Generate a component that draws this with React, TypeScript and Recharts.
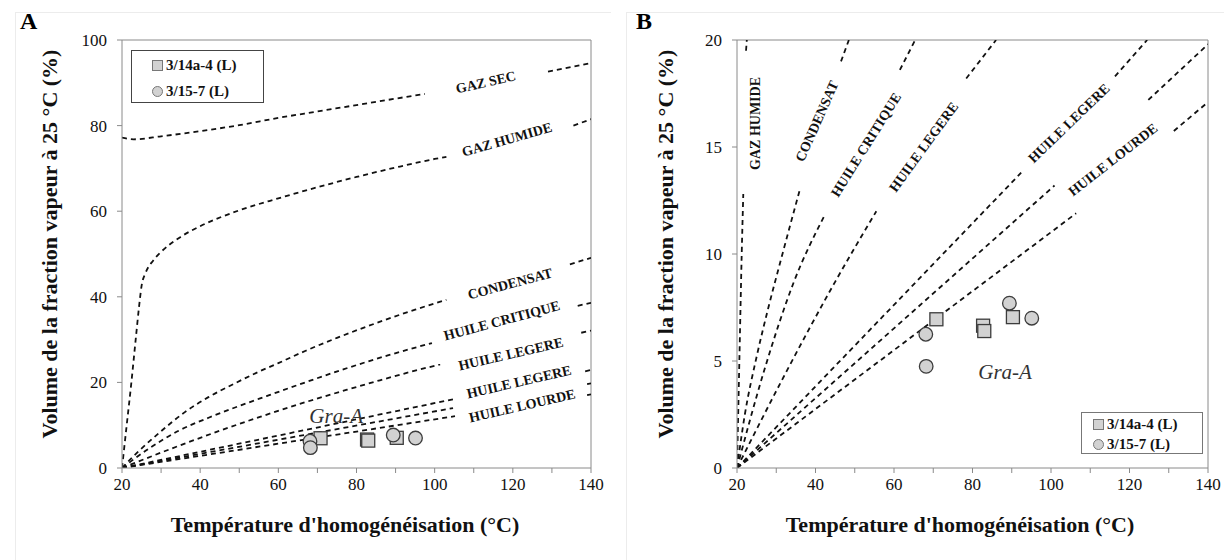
import { ComposedChart, Line, Scatter, XAxis, YAxis, ReferenceLine } from "recharts";

type Pt = { x: number; y: number | null };
type Note = { text: string; x: number; y: number; angle: number };

const xTicks = [20, 30, 40, 50, 60, 70, 80, 90, 100, 110, 120, 130, 140];
const yTicksA = [0, 20, 40, 60, 80, 100];
const yTicksB = [0, 5, 10, 15, 20];

const seriesNames = ["3/14a-4 (L)", "3/15-7 (L)"];
const xTitle = "Température d'homogénéisation (°C)";
const yTitle = "Volume de la fraction vapeur à 25 °C (%)";

// measured inclusions (Th, vapour %)
const s314 = [
  { x: 70.8, y: 6.95 },
  { x: 82.7, y: 6.65 },
  { x: 83.0, y: 6.4 },
  { x: 90.3, y: 7.05 },
];
const s315 = [
  { x: 68.1, y: 6.25 },
  { x: 68.2, y: 4.75 },
  { x: 89.4, y: 7.7 },
  { x: 95.1, y: 7.0 },
];

// panel A isochores; y: null leaves the gap where the label sits
const aGazSec: Pt[] = [
  { x: 20, y: 77.2 }, { x: 23, y: 76.8 }, { x: 30, y: 77.5 }, { x: 40, y: 78.7 },
  { x: 50, y: 80.1 }, { x: 60, y: 81.8 }, { x: 70, y: 83.3 }, { x: 80, y: 84.8 },
  { x: 90, y: 86.3 }, { x: 97.5, y: 87.4 }, { x: 110, y: null },
  { x: 129, y: 92.6 }, { x: 140, y: 94.6 },
];
const aGazHumide: Pt[] = [
  { x: 20, y: 0 }, { x: 21.2, y: 10 }, { x: 22.4, y: 20 }, { x: 23.5, y: 30 },
  { x: 24.4, y: 38 }, { x: 25, y: 42.5 }, { x: 26, y: 45.5 }, { x: 28, y: 48.5 },
  { x: 30, y: 50.5 }, { x: 35, y: 54 }, { x: 40, y: 56.5 }, { x: 50, y: 60.2 },
  { x: 60, y: 63 }, { x: 70, y: 65.6 }, { x: 80, y: 68 }, { x: 90, y: 70.2 },
  { x: 100, y: 72.2 }, { x: 103, y: 72.7 }, { x: 120, y: null },
  { x: 135.5, y: 80 }, { x: 140, y: 81.5 },
];
const aCondensat: Pt[] = [
  { x: 20, y: 0 }, { x: 24, y: 3.7 }, { x: 29.5, y: 8.2 }, { x: 36, y: 13 },
  { x: 42, y: 16.5 }, { x: 48.5, y: 19.6 }, { x: 55, y: 22.5 }, { x: 60, y: 24.5 },
  { x: 67, y: 27.4 }, { x: 75, y: 30.4 }, { x: 86.7, y: 34.4 }, { x: 95, y: 37 },
  { x: 103, y: 39.3 }, { x: 120, y: null }, { x: 134.6, y: 47.6 }, { x: 140, y: 49.1 },
];
const aCritique: Pt[] = [
  { x: 20, y: 0 }, { x: 27, y: 4.6 }, { x: 34.5, y: 8.7 }, { x: 42.3, y: 11.8 },
  { x: 50, y: 14.5 }, { x: 57, y: 16.8 }, { x: 65, y: 19.4 }, { x: 76.8, y: 23.1 },
  { x: 88, y: 26.3 }, { x: 99.3, y: 29.2 }, { x: 120, y: null },
  { x: 136.6, y: 37.9 }, { x: 140, y: 38.6 },
];
const aLegere1: Pt[] = [
  { x: 20, y: 0 }, { x: 32, y: 4.3 }, { x: 45, y: 8.7 }, { x: 55.5, y: 12 },
  { x: 67, y: 15.4 }, { x: 78.4, y: 18.5 }, { x: 86, y: 20.5 }, { x: 94, y: 22.5 },
  { x: 101.4, y: 24.2 }, { x: 120, y: null }, { x: 137.5, y: 31.6 }, { x: 140, y: 32.1 },
];
const aLegere2: Pt[] = [
  { x: 20, y: 0 }, { x: 105.5, y: 16.2 }, { x: 120, y: null },
  { x: 138.5, y: 22.6 }, { x: 140, y: 22.9 },
];
const aMid: Pt[] = [
  { x: 20, y: 0 }, { x: 104.7, y: 14 }, { x: 120, y: null },
  { x: 139, y: 19.6 }, { x: 140, y: 19.8 },
];
const aLourde: Pt[] = [
  { x: 20, y: 0 }, { x: 105.2, y: 12.1 }, { x: 120, y: null },
  { x: 139, y: 17 }, { x: 140, y: 17.2 },
];

// panel B, same isochores zoomed to 0-20 %
const bGazHumide: Pt[] = [
  { x: 20, y: 0 }, { x: 20.6, y: 5 }, { x: 21.2, y: 10 }, { x: 21.6, y: 12.8 },
  { x: 22, y: null }, { x: 22.3, y: 19.5 }, { x: 22.5, y: 20 },
];
const bCondensat: Pt[] = [
  { x: 20, y: 0 }, { x: 22, y: 2.5 }, { x: 25, y: 5.2 }, { x: 28, y: 7.5 },
  { x: 31, y: 9.6 }, { x: 36, y: 13 }, { x: 40, y: null },
  { x: 46.5, y: 19 }, { x: 48.5, y: 20 },
];
const bCritique: Pt[] = [
  { x: 20, y: 0 }, { x: 27, y: 4.6 }, { x: 34.5, y: 8.7 }, { x: 42.3, y: 11.8 },
  { x: 50, y: null }, { x: 61.5, y: 18.6 }, { x: 65.4, y: 20 },
];
const bLegere1: Pt[] = [
  { x: 20, y: 0 }, { x: 32, y: 4.3 }, { x: 45, y: 8.7 }, { x: 55.5, y: 12 },
  { x: 65, y: null }, { x: 78.4, y: 18.2 }, { x: 86, y: 20 },
];
const bLegere2: Pt[] = [
  { x: 20, y: 0 }, { x: 92.4, y: 13.8 }, { x: 100, y: null },
  { x: 116.3, y: 18.3 }, { x: 124.5, y: 20 },
];
const bMid: Pt[] = [
  { x: 20, y: 0 }, { x: 100.9, y: 13.2 }, { x: 110, y: null },
  { x: 124.8, y: 17.2 }, { x: 140, y: 19.8 },
];
const bLourde: Pt[] = [
  { x: 20, y: 0 }, { x: 106.4, y: 11.9 }, { x: 120, y: null },
  { x: 131.3, y: 15.75 }, { x: 140, y: 17.1 },
];

const notesA: Note[] = [
  { text: "GAZ SEC", x: 113.1, y: 90.1, angle: -13 },
  { text: "GAZ HUMIDE", x: 118.5, y: 76.7, angle: -16 },
  { text: "CONDENSAT", x: 119.3, y: 43, angle: -15 },
  { text: "HUILE CRITIQUE", x: 117.2, y: 34.4, angle: -15 },
  { text: "HUILE LEGERE", x: 119.5, y: 26.6, angle: -13 },
  { text: "HUILE LEGERE", x: 121.6, y: 20.1, angle: -13 },
  { text: "HUILE LOURDE", x: 122.4, y: 14.5, angle: -13 },
];
const notesB: Note[] = [
  { text: "GAZ HUMIDE", x: 24.6, y: 16.1, angle: -90 },
  { text: "CONDENSAT", x: 40.4, y: 16.2, angle: -66 },
  { text: "HUILE CRITIQUE", x: 52.9, y: 15.1, angle: -58 },
  { text: "HUILE LEGERE", x: 67.6, y: 15.0, angle: -54 },
  { text: "HUILE LEGERE", x: 104.6, y: 16.1, angle: -44 },
  { text: "HUILE LOURDE", x: 115.8, y: 14.4, angle: -38 },
];
const groupA = [{ text: "Gra-A", x: 74.8, y: 12.1, angle: 0 }];
const groupB = [{ text: "Gra-A", x: 88.3, y: 4.5, angle: 0 }];

const SERIF = "'Liberation Serif', 'Times New Roman', serif";
const AXIS = "#8a8a8a";
const DASH = "5 4";

const squareShape = (p: any) => (
  <rect x={p.cx - 6.5} y={p.cy - 6.5} width={13} height={13} fill="#d2d2d2" stroke="#3c3c3c" strokeWidth={1.3} />
);
const circleShape = (p: any) => (
  <circle cx={p.cx} cy={p.cy} r={6.8} fill="#d2d2d2" stroke="#3c3c3c" strokeWidth={1.3} />
);
const noteShape = (p: any) => (
  <text
    x={p.cx}
    y={p.cy}
    textAnchor="middle"
    dominantBaseline="central"
    transform={`rotate(${p.payload.angle} ${p.cx} ${p.cy})`}
    fontFamily={SERIF}
    fontWeight="bold"
    fontSize={14}
    fill="#111"
  >
    {p.payload.text}
  </text>
);
const groupShape = (p: any) => (
  <text x={p.cx} y={p.cy} textAnchor="middle" dominantBaseline="central" fontFamily={SERIF} fontStyle="italic" fontSize={21} fill="#333">
    {p.payload.text}
  </text>
);

interface PanelProps {
  width: number;
  left: number;
  right: number;
  yMax: number;
  yTicks: number[];
  curves: Pt[][];
  notes: Note[];
  group: Note[];
}

function Panel({ width, left, right, yMax, yTicks, curves, notes, group }: PanelProps) {
  const tick = { fontFamily: SERIF, fontSize: 17, fill: "#111" };
  return (
    <ComposedChart width={width} height={560} margin={{ top: 40, right, bottom: 62, left }}>
      <XAxis
        type="number"
        dataKey="x"
        domain={[20, 140]}
        ticks={xTicks}
        tickFormatter={(v: number) => (v % 20 === 0 ? String(v) : "")}
        interval={0}
        height={30}
        stroke={AXIS}
        tickSize={5}
        tickMargin={5}
        tick={tick}
        allowDataOverflow
      />
      <YAxis
        type="number"
        dataKey="y"
        domain={[0, yMax]}
        ticks={yTicks}
        interval={0}
        width={60}
        stroke={AXIS}
        tickSize={5}
        tickMargin={10}
        tick={tick}
        allowDataOverflow
      />
      <ReferenceLine y={yMax} stroke={AXIS} />
      <ReferenceLine x={140} stroke={AXIS} />
      {curves.map((c, i) => (
        <Line
          key={i}
          data={c}
          dataKey="y"
          type="monotone"
          stroke="#111"
          strokeWidth={1.8}
          strokeDasharray={DASH}
          dot={false}
          activeDot={false}
          connectNulls={false}
          isAnimationActive={false}
        />
      ))}
      <Scatter data={notes} shape={noteShape} isAnimationActive={false} />
      <Scatter data={group} shape={groupShape} isAnimationActive={false} />
      <Scatter name={seriesNames[0]} data={s314} shape={squareShape} isAnimationActive={false} />
      <Scatter name={seriesNames[1]} data={s315} shape={circleShape} isAnimationActive={false} />
    </ComposedChart>
  );
}

function LegendBox({ left, top, width, height, border, rows }: any) {
  return (
    <div
      style={{
        position: "absolute",
        left,
        top,
        width,
        height,
        boxSizing: "border-box",
        border,
        background: "#fff",
        fontFamily: SERIF,
        fontWeight: "bold",
        fontSize: 15,
        color: "#111",
      }}
    >
      {seriesNames.map((n, i) => (
        <div
          key={n}
          style={{ position: "absolute", left: rows.mx - 5, top: rows.y[i] - 9, height: 18, display: "flex", alignItems: "center", whiteSpace: "nowrap" }}
        >
          <span
            style={{
              display: "inline-block",
              width: 9,
              height: 9,
              marginRight: 3,
              background: "#d2d2d2",
              border: "1px solid #777",
              borderRadius: i === 1 ? "50%" : 0,
            }}
          />
          {n}
        </div>
      ))}
    </div>
  );
}

const abs = (s: any) => ({ position: "absolute" as const, ...s });

export default function App() {
  const titleFont = { fontFamily: SERIF, fontWeight: "bold" as const, fontSize: 22, color: "#111", whiteSpace: "nowrap" as const };
  return (
    <div style={abs({ left: 0, top: 0, width: 1224, height: 560, background: "#fff", overflow: "hidden" })}>
      <div style={abs({ left: 15, top: 12, width: 595, height: 560, borderLeft: "1px solid #ececec", borderTop: "1px solid #ececec" })} />
      <div style={abs({ left: 626, top: 12, width: 598, height: 560, borderLeft: "1px solid #ececec", borderTop: "1px solid #ececec" })} />

      <div style={abs({ left: 0, top: 0 })}>
        <Panel
          width={615}
          left={62}
          right={24}
          yMax={100}
          yTicks={yTicksA}
          curves={[aGazSec, aGazHumide, aCondensat, aCritique, aLegere1, aLegere2, aMid, aLourde]}
          notes={notesA}
          group={groupA}
        />
      </div>
      <div style={abs({ left: 610, top: 0 })}>
        <Panel
          width={614}
          left={67}
          right={16}
          yMax={20}
          yTicks={yTicksB}
          curves={[bGazHumide, bCondensat, bCritique, bLegere1, bLegere2, bMid, bLourde]}
          notes={notesB}
          group={groupB}
        />
      </div>

      <LegendBox left={131} top={50} width={133} height={53} border="1.5px solid #444" rows={{ mx: 25, y: [14, 40] }} />
      <LegendBox left={1081} top={412} width={122} height={42} border="1px solid #777" rows={{ mx: 16, y: [11, 31] }} />

      <div style={abs({ left: 20, top: 8, fontFamily: SERIF, fontWeight: "bold", fontSize: 24 })}>A</div>
      <div style={abs({ left: 636, top: 8, fontFamily: SERIF, fontWeight: "bold", fontSize: 24 })}>B</div>

      <div style={abs({ left: 345, top: 525, transform: "translate(-50%, -50%)", ...titleFont })}>{xTitle}</div>
      <div style={abs({ left: 960, top: 525, transform: "translate(-50%, -50%)", ...titleFont })}>{xTitle}</div>
      <div style={abs({ left: 50, top: 244, transform: "translate(-50%, -50%) rotate(-90deg)", ...titleFont })}>{yTitle}</div>
      <div style={abs({ left: 666, top: 244, transform: "translate(-50%, -50%) rotate(-90deg)", ...titleFont })}>{yTitle}</div>
    </div>
  );
}
